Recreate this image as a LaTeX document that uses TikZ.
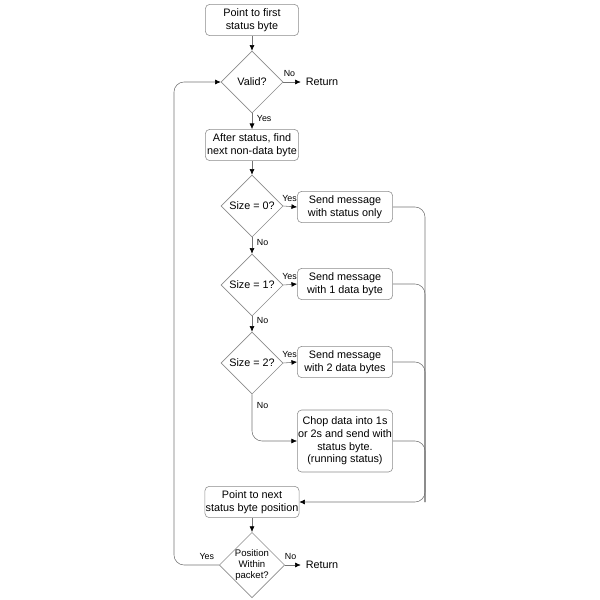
\documentclass[tikz,border=0pt]{standalone}
\usepackage{fontspec}
\setmainfont{Liberation Sans}
\usetikzlibrary{shapes.geometric, arrows.meta, positioning, calc}

\begin{document}
\begin{tikzpicture}[x=0.025cm, y=-0.025cm,
    every node/.style={font=\fontsize{7.7}{9}\selectfont},
    procbox/.style={draw=black!45, rounded corners=3pt, fill=white, align=center, minimum width=2.33cm, minimum height=0.78cm, inner xsep=0.5pt, inner ysep=1pt},
    sendbox/.style={procbox, minimum width=2.38cm},
    decide/.style={draw=black!45, diamond, aspect=1, minimum size=1.55cm, inner sep=0pt, align=center, fill=white},
    tag/.style={font=\fontsize{6.3}{7}\selectfont},
    line/.style={draw=black!55, rounded corners=0.25cm},
    flow/.style={line, -{Latex[length=4pt, width=3.5pt, color=black]}}]
    \useasboundingbox (0,0) rectangle (600,600);

    % Top of packet
    \node[procbox] (first) at (252, 20) {Point to first\\status byte};
    \node[decide] (valid) at (252, 82) {Valid?};
    \node (ret1) at (322, 82) {Return};
    \node[procbox] (after) at (252, 145) {After status, find\\next non-data byte};

    \draw[flow] (first) -- (valid);
    \draw[flow] (valid.east) -- (ret1.west) node[tag, pos=0.35, above] {No};
    \draw[flow] (valid.south) -- (after.north) node[tag, pos=0.3, right] {Yes};

    % Size tests
    \node[decide] (size0) at (252, 206) {Size = 0?};
    \node[sendbox] (send0) at (345, 207) {Send message\\with status only};
    \node[decide] (size1) at (252, 285) {Size = 1?};
    \node[sendbox] (send1) at (345, 284) {Send message\\with 1 data byte};
    \node[decide] (size2) at (252, 363) {Size = 2?};
    \node[sendbox] (send2) at (345, 362) {Send message\\with 2 data bytes};
    \node[sendbox, minimum height=1.55cm] (chop) at (345, 441) {Chop data into 1s\\or 2s and send with\\status byte.\\(running status)};

    \draw[flow] (after) -- (size0);
    \draw[flow] (size0.east) -- (send0.west) node[tag, pos=0.45, above] {Yes};
    \draw[flow] (size0.south) -- (size1.north) node[tag, pos=0.3, right] {No};
    \draw[flow] (size1.east) -- (send1.west) node[tag, pos=0.45, above] {Yes};
    \draw[flow] (size1.south) -- (size2.north) node[tag, pos=0.3, right] {No};
    \draw[flow] (size2.east) -- (send2.west) node[tag, pos=0.45, above] {Yes};
    \draw[flow] (size2.south) |- (chop.west) node[tag, pos=0.12, right] {No};

    % Merge and next status byte
    \node[procbox] (next) at (252, 502) {Point to next\\status byte position};
    \coordinate (merge) at (425, 502);
    \draw[flow] (send0.east) -| (merge) -- (next.east);
    \draw[line] (send1.east) -| (merge);
    \draw[line] (send2.east) -| (merge);
    \draw[line] (chop.east) -| (merge);

    \node[decide, font=\fontsize{6.8}{8}\selectfont] (within) at (252, 565) {Position\\Within\\packet?};
    \node (ret2) at (322, 565) {Return};
    \coordinate (loop) at (174, 82);

    \draw[flow] (next) -- (within);
    \draw[flow] (within.east) -- (ret2.west) node[tag, pos=0.35, above] {No};
    \draw[flow] (within.west) -| (loop) -- (valid.west);
    \node[tag, above left=0pt and 0pt] at (within.west) {Yes};
\end{tikzpicture}
\end{document}
